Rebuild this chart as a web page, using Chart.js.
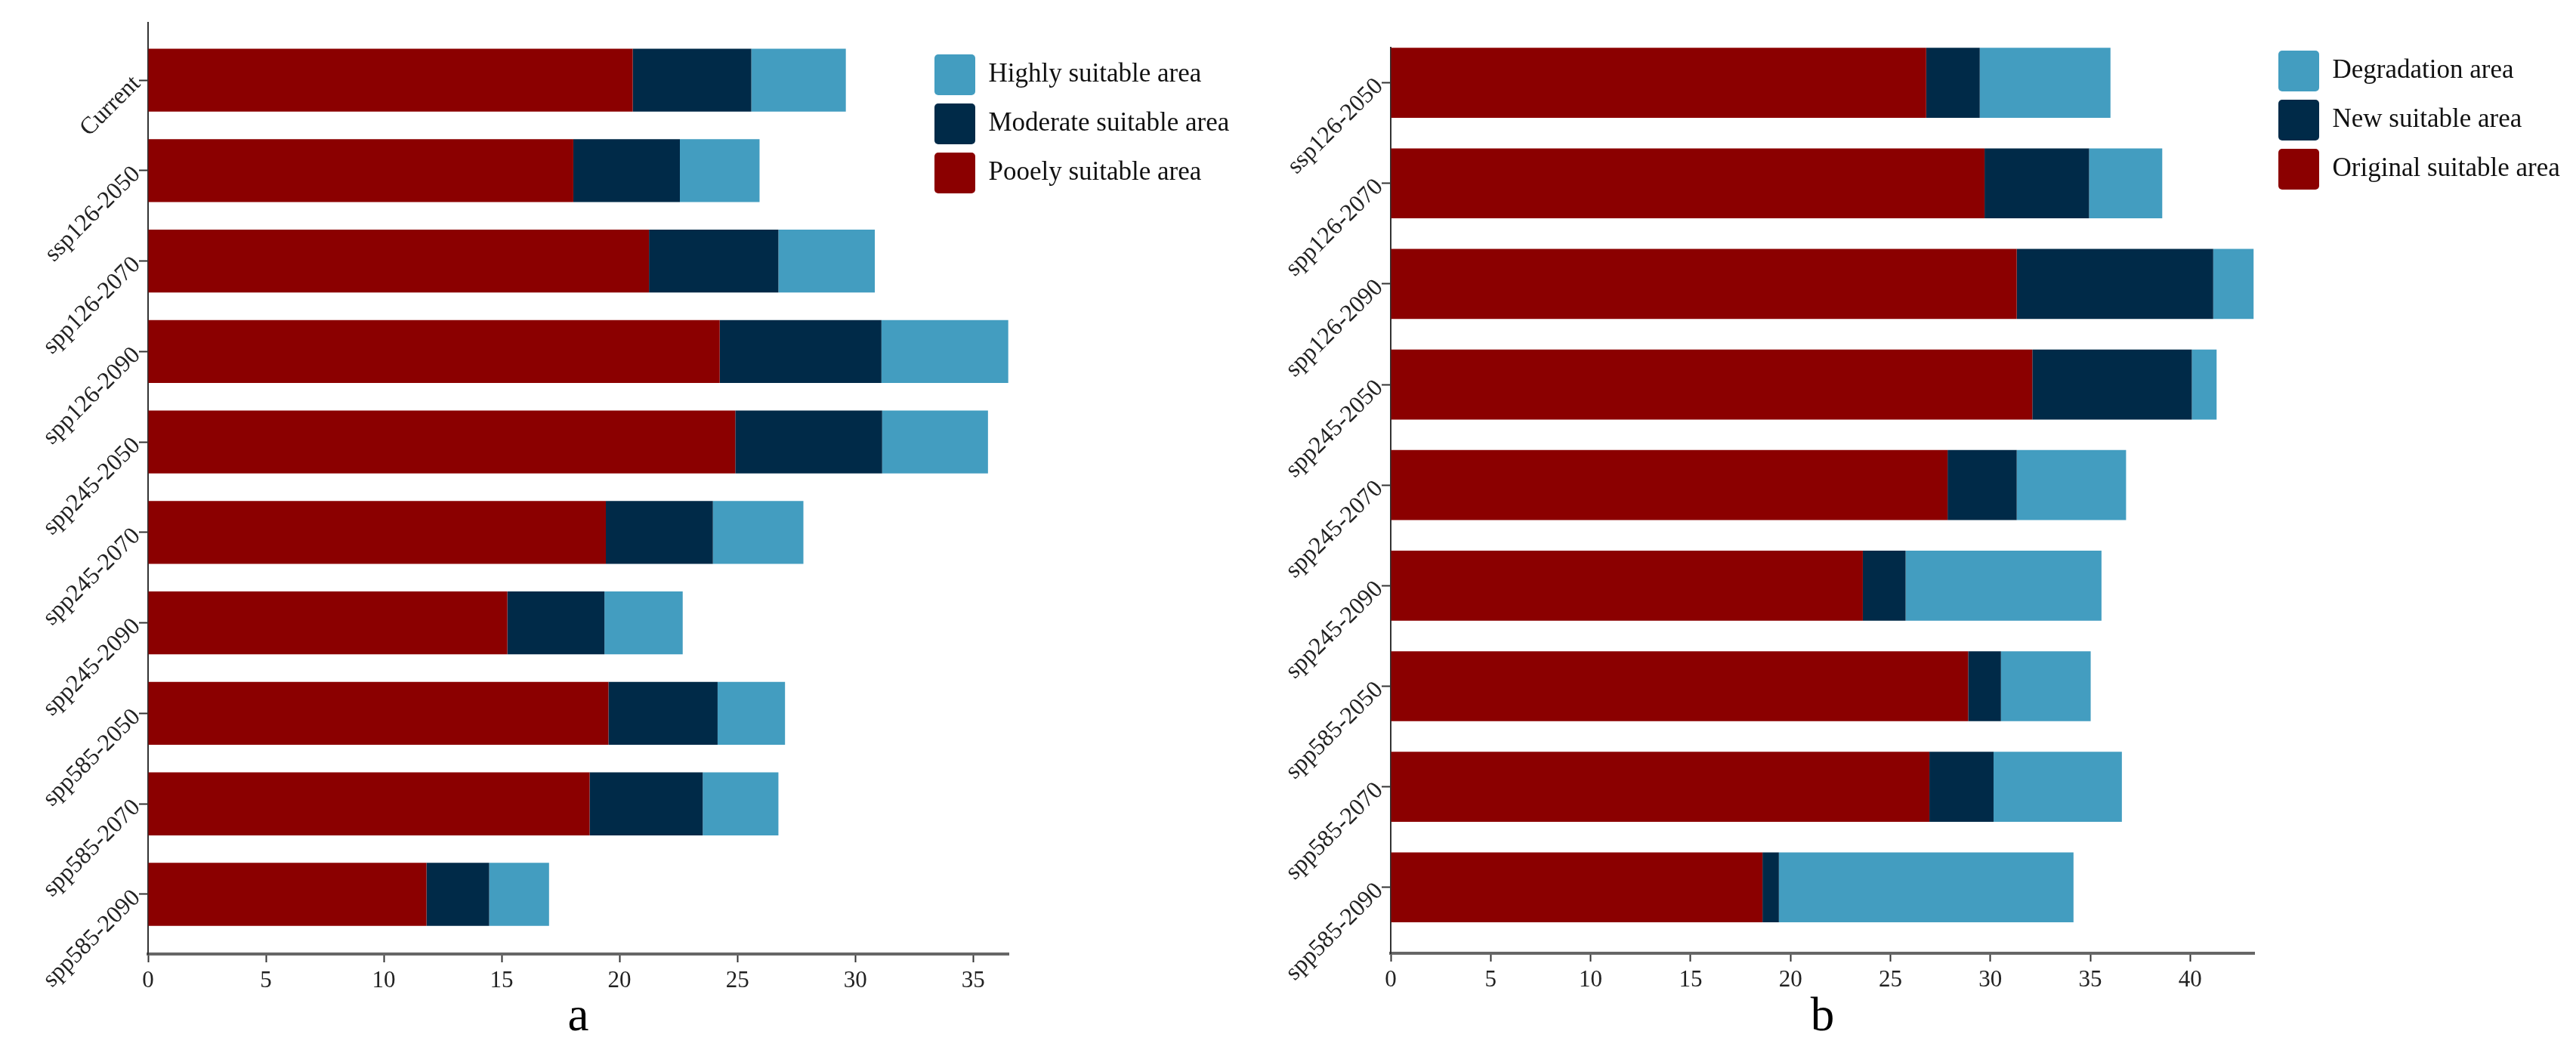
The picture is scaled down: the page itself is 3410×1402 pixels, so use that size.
<!DOCTYPE html>
<html>
<head>
<meta charset="utf-8">
<title>Suitable area under climate scenarios</title>
<script src="https://cdn.jsdelivr.net/npm/chart.js@4.4.0/dist/chart.umd.min.js"></script>
<style>
  html, body { margin: 0; padding: 0; background: #fff; }
  #wrap { position: relative; width: 3410px; height: 1402px; }
  .panel { position: absolute; top: 0; height: 1402px; }
  #panelA { left: 0; width: 1700px; }
  #panelB { left: 1700px; width: 1710px; }
</style>
</head>
<body>
<div id="wrap">
  <div class="panel" id="panelA"><canvas id="chartA"></canvas></div>
  <div class="panel" id="panelB"><canvas id="chartB"></canvas></div>
</div>
<script>
// panel a: suitable area by class
const periodsA = ['Current', 'ssp126-2050', 'spp126-2070', 'spp126-2090', 'spp245-2050',
                  'spp245-2070', 'spp245-2090', 'spp585-2050', 'spp585-2070', 'spp585-2090'];
const poorlyArea   = [20.56, 18.04, 21.25, 24.25, 24.91, 19.42, 15.24, 19.53, 18.73, 11.81];
const moderateArea = [5.03, 4.52, 5.49, 6.86, 6.23, 4.54, 4.12, 4.63, 4.80, 2.66];
const highlyArea   = [4.01, 3.38, 4.09, 5.38, 4.49, 3.84, 3.32, 2.86, 3.21, 2.54];

// panel b: change of suitable area
const periodsB = ['ssp126-2050', 'spp126-2070', 'spp126-2090', 'spp245-2050', 'spp245-2070',
                  'spp245-2090', 'spp585-2050', 'spp585-2070', 'spp585-2090'];
const originalArea    = [26.79, 29.71, 31.32, 32.10, 27.86, 23.62, 28.89, 26.95, 18.60];
const newArea         = [2.68, 5.23, 9.83, 7.98, 3.46, 2.14, 1.64, 3.21, 0.82];
const degradationArea = [6.54, 3.66, 2.02, 1.24, 5.47, 9.80, 4.49, 6.42, 14.74];

const xTicksStep = 5;

const serif = "'Liberation Serif', 'Times New Roman', serif";
const red = '#8b0000';
const navy = '#002a48';
const sky = '#439dc0';

// legend sits inside the plot area, so move it after layout
const legendPlacer = {
    id: 'legendPlacer',
    afterLayout(chart, args, opts) {
        const lg = chart.legend;
        lg.left = opts.x;
        lg.top = opts.y;
        lg.right = chart.width;
        lg.bottom = opts.y + lg.height;
    }
};

function stackedBars(canvasId, cats, series, cfg) {
    return new Chart(document.getElementById(canvasId), {
        type: 'bar',
        data: {
            labels: cats.map((c, i) => i),
            datasets: series.map(s => ({
                label: s.label,
                data: s.data,
                backgroundColor: s.color,
                borderWidth: 0,
                barPercentage: 0.87,
                categoryPercentage: 0.8
            }))
        },
        options: {
            indexAxis: 'y',
            responsive: true,
            maintainAspectRatio: false,
            animation: false,
            layout: { padding: cfg.padding },
            plugins: {
                tooltip: { enabled: false },
                legend: {
                    position: 'chartArea',
                    align: 'start',
                    reverse: true,
                    labels: {
                        font: { family: serif, size: 35 },
                        color: '#111',
                        boxWidth: 54,
                        boxHeight: 54,
                        padding: 11,
                        useBorderRadius: true,
                        borderRadius: 5
                    }
                },
                legendPlacer: cfg.legendAt
            },
            scales: {
                x: {
                    stacked: true,
                    min: 0,
                    max: cfg.xMax,
                    ticks: {
                        stepSize: xTicksStep,
                        autoSkip: false,
                        includeBounds: false,
                        padding: 6,
                        color: '#222',
                        font: { family: serif, size: 31 }
                    },
                    grid: { drawOnChartArea: false, tickLength: 11, tickWidth: 2, tickColor: '#333' },
                    border: { color: '#666', width: 4 },
                    title: {
                        display: true,
                        text: cfg.title,
                        color: '#000',
                        font: { family: serif, size: 63 },
                        padding: { top: 0, bottom: 17 }
                    },
                    afterFit: s => { s.height = cfg.xAxisHeight; }
                },
                y: {
                    type: 'linear',
                    stacked: true,
                    reverse: true,
                    offset: false,
                    bounds: 'data',
                    min: cfg.yMin,
                    max: cfg.yMax,
                    // one tick per category
                    afterBuildTicks: s => { s.ticks = cats.map((c, i) => ({ value: i })); },
                    ticks: {
                        autoSkip: false,
                        minRotation: 45,
                        maxRotation: 45,
                        padding: 3,
                        color: '#222',
                        font: { family: serif, size: 32 },
                        callback: v => cats[v]
                    },
                    grid: { offset: false, drawOnChartArea: false, tickLength: 12, tickWidth: 2, tickColor: '#333' },
                    border: { color: '#333', width: 2 },
                    afterFit: s => { s.width = cfg.yAxisWidth; }
                }
            }
        },
        plugins: [legendPlacer]
    });
}

stackedBars('chartA', periodsA, [
    { label: 'Pooely suitable area', data: poorlyArea, color: red },
    { label: 'Moderate suitable area', data: moderateArea, color: navy },
    { label: 'Highly suitable area', data: highlyArea, color: sky }
], {
    title: 'a',
    xMax: 36.5,
    yMin: -0.64,
    yMax: 9.66,
    padding: { left: 0, top: 29.5, right: 365, bottom: 0 },
    yAxisWidth: 196,
    xAxisHeight: 139,
    legendAt: { x: 1226, y: 61 }
});

stackedBars('chartB', periodsB, [
    { label: 'Original suitable area', data: originalArea, color: red },
    { label: 'New suitable area', data: newArea, color: navy },
    { label: 'Degradation area', data: degradationArea, color: sky }
], {
    title: 'b',
    xMax: 43.2,
    yMin: -0.35,
    yMax: 8.655,
    padding: { left: 0, top: 63, right: 426, bottom: 0 },
    yAxisWidth: 141,
    xAxisHeight: 140,
    legendAt: { x: 1305, y: 56 }
});
</script>
</body>
</html>
